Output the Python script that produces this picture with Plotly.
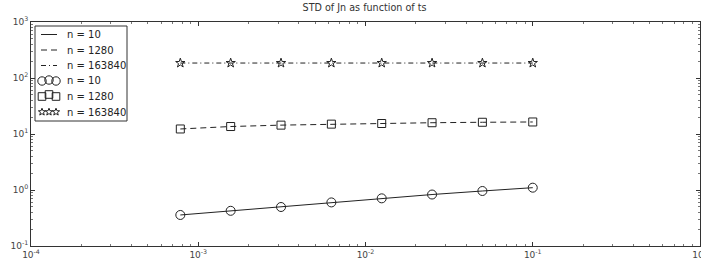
import math
import plotly.graph_objects as go

ts = [0.00078125, 0.0015625, 0.003125, 0.00625, 0.0125, 0.025, 0.05, 0.1]
std_n10 = [0.358, 0.425, 0.497, 0.60, 0.71, 0.83, 0.96, 1.10]
std_n1280 = [12.3, 13.6, 14.4, 15.0, 15.4, 15.9, 16.2, 16.4]
std_n163840 = [185, 185, 185, 185, 185, 185, 185, 185]
labels = ["n = 10", "n = 1280", "n = 163840"]
tick_vals_x = [1e-4, 1e-3, 1e-2, 1e-1, 1]
tick_text_x = ["10<sup>-4</sup>", "10<sup>-3</sup>", "10<sup>-2</sup>", "10<sup>-1</sup>", "10<sup>0</sup>"]
tick_vals_y = [0.1, 1, 10, 100, 1000]
tick_text_y = ["10<sup>-1</sup>", "10<sup>0</sup>", "10<sup>1</sup>", "10<sup>2</sup>", "10<sup>3</sup>"]

C = "#222222"
W, H = 701, 261
L, R, T, B = 31, 700, 22, 246

def px(x):
    return (x - L) / (R - L)

def py(y):
    return (B - y) / (B - T)

fig = go.Figure()
dashes = ["solid", "6px,4px", "5px,3px,1px,3px"]
series = [std_n10, std_n1280, std_n163840]
for lab, d, ys in zip(labels, dashes, series):
    fig.add_trace(go.Scatter(x=ts, y=ys, mode="lines", name=lab, showlegend=False,
                             line=dict(color=C, width=1, dash=d)))
symbols = ["circle-open", "square-open", "star-open"]
sizes = [9, 8, 7]
for lab, s, sz, ys in zip(labels, symbols, sizes, series):
    fig.add_trace(go.Scatter(x=ts, y=ys, mode="markers", name=lab, showlegend=False,
                             marker=dict(symbol=s, size=sz, color=C,
                                         line=dict(width=1, color=C))))

axis_common = dict(type="log", showgrid=False, automargin=False,
                   ticks="inside", ticklen=4, tickcolor="#333", mirror="allticks",
                   showline=True, linecolor="#333", linewidth=1,
                   ticklabeloverflow="allow",
                   tickfont=dict(size=9, color="#444", family="DejaVu Sans"),
                   minor=dict(ticks="inside", ticklen=2, tickcolor="#777", showgrid=False,
                              dtick="D1"),
                   zeroline=False)
fig.update_xaxes(range=[-4, 0], tickvals=tick_vals_x, ticktext=tick_text_x, **axis_common)
fig.update_yaxes(range=[-1, 3], tickvals=tick_vals_y, ticktext=tick_text_y, **axis_common)

# hand-drawn legend (matplotlib style)
shapes = []
annotations = []
shapes.append(dict(type="rect", xref="paper", yref="paper",
                   x0=px(35), x1=px(127), y0=py(121), y1=py(26),
                   line=dict(color="#333", width=1), fillcolor="white", layer="above"))
entry_y = [34.5, 50, 65.5, 81, 96.5, 112]
for i, d in enumerate(dashes):
    yy = py(entry_y[i])
    shapes.append(dict(type="line", xref="paper", yref="paper",
                       x0=px(41), x1=px(57), y0=yy, y1=yy,
                       line=dict(color=C, width=1, dash=d), layer="above"))
centers = [42, 49, 56]
for j, cx in enumerate(centers):
    cy = entry_y[3] - (1 if j == 1 else 0)
    r = 4.2
    shapes.append(dict(type="circle", xref="paper", yref="paper",
                       x0=px(cx - r), x1=px(cx + r), y0=py(cy + r), y1=py(cy - r),
                       line=dict(color=C, width=1), layer="above"))
    cy = entry_y[4] - (2 if j == 1 else 0)
    r = 3.8
    shapes.append(dict(type="rect", xref="paper", yref="paper",
                       x0=px(cx - r), x1=px(cx + r), y0=py(cy + r), y1=py(cy - r),
                       line=dict(color=C, width=1), layer="above"))
    cy = entry_y[5]
    ro, ri = 3.8, 1.6
    pts = []
    for k in range(10):
        ang = -math.pi / 2 + k * math.pi / 5
        rr = ro if k % 2 == 0 else ri
        pts.append((px(cx + rr * math.cos(ang)), py(cy + rr * math.sin(ang))))
    path = "M " + " L ".join(f"{a:.5f},{b:.5f}" for a, b in pts) + " Z"
    shapes.append(dict(type="path", xref="paper", yref="paper", path=path,
                       line=dict(color=C, width=1), layer="above"))
for i in range(6):
    annotations.append(dict(text=labels[i % 3], xref="paper", yref="paper",
                            x=px(65), y=py(entry_y[i]), xanchor="left", yanchor="middle",
                            showarrow=False,
                            font=dict(size=10, color="#222", family="DejaVu Sans")))

fig.update_layout(
    width=W, height=H,
    margin=dict(l=L, r=W - R, t=T, b=H - B),
    plot_bgcolor="white", paper_bgcolor="white",
    title=dict(text="STD of Jn as function of ts", x=0.52, xanchor="center",
               y=0.985, yanchor="top",
               font=dict(size=9.6, color="#333", family="DejaVu Sans")),
    showlegend=False,
    shapes=shapes, annotations=annotations,
)

fig.write_html("out.html", config={"displayModeBar": False},
               post_script="document.body.style.margin='0';document.body.style.overflow='hidden';")
